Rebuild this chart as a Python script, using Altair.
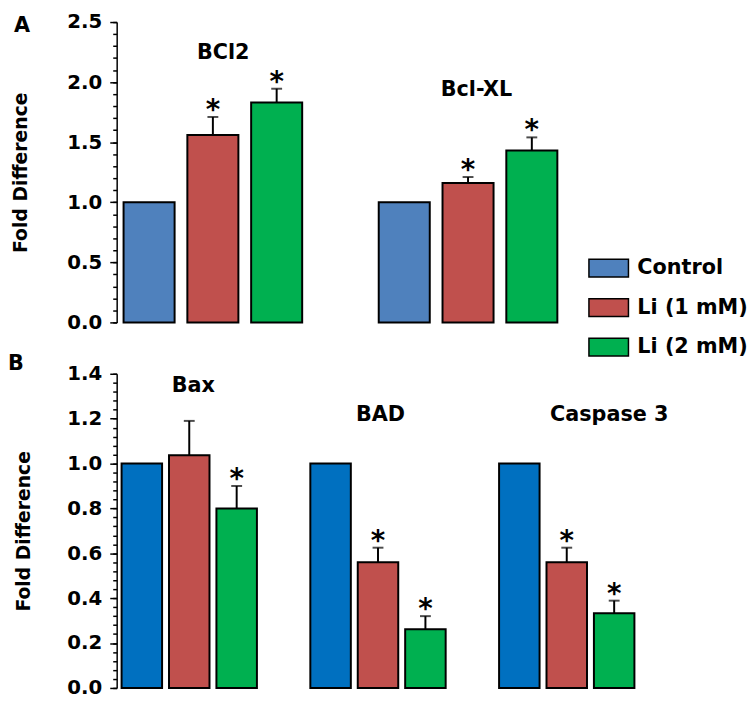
import altair as alt
import pandas as pd

treatments = ["Control", "Li (1 mM)", "Li (2 mM)"]

# Panel A
groups_a = ["BCl2", "Bcl-XL"]
mean_a = [[1.0, 1.56, 1.83], [1.0, 1.16, 1.43]]
err_a = [[0.0, 0.15, 0.115], [0.0, 0.05, 0.11]]
sig_a = [[False, True, True], [False, True, True]]
label_y_a = [2.24, 1.93]
colors_a = ["#4F81BD", "#C0504D", "#00B050"]
major_a = [0.0, 0.5, 1.0, 1.5, 2.0, 2.5]
minor_a = [round(i * 0.1, 1) for i in range(26)]

# Panel B
groups_b = ["Bax", "BAD", "Caspase 3"]
mean_b = [[1.0, 1.037, 0.80], [1.0, 0.56, 0.262], [1.0, 0.56, 0.333]]
err_b = [[0.0, 0.153, 0.10], [0.0, 0.065, 0.058], [0.0, 0.065, 0.056]]
sig_b = [[False, False, True], [False, True, True], [False, True, True]]
label_y_b = [1.344, 1.216, 1.216]
colors_b = ["#0070C0", "#C0504D", "#00B050"]
major_b = [0.0, 0.2, 0.4, 0.6, 0.8, 1.0, 1.2, 1.4]
minor_b = [round(i * 0.04, 2) for i in range(36)]

FONT = "DejaVu Sans"


def make_df(groups, means, errs, sigs):
    rows = []
    for gi, g in enumerate(groups):
        for ti, t in enumerate(treatments):
            m = means[gi][ti]
            e = errs[gi][ti]
            rows.append({"group": g, "treat": t, "mean": m, "err": e,
                         "upper": m + e, "sig": sigs[gi][ti]})
    return pd.DataFrame(rows)


def panel(groups, means, errs, sigs, label_y, label_dx, colors, major, minor,
          ymax, width, height, pad_inner, pad_outer, off_inner,
          letter, letter_x, letter_y, legend, title_pad):
    df = make_df(groups, means, errs, sigs)
    xenc = alt.X("group:N", sort=groups,
                 scale=alt.Scale(paddingInner=pad_inner, paddingOuter=pad_outer),
                 axis=None)
    xoff = alt.XOffset("treat:N", sort=treatments,
                       scale=alt.Scale(paddingInner=off_inner, paddingOuter=0))
    yscale = alt.Scale(domain=[0, ymax], nice=False, zero=True)
    yaxis = alt.Axis(
        values=major, format=".1f", orient="left",
        tickSize=7, labelOverlap=False, grid=False,
        domainColor="black", domainWidth=1.5,
        tickColor="black", tickWidth=1.5,
        labelFont=FONT, labelFontWeight="bold", labelFontSize=20,
        labelColor="black", labelPadding=8,
        title="Fold Difference", titleFont=FONT, titleFontWeight="bold",
        titleFontSize=19, titleColor="black", titlePadding=title_pad,
    )
    minor_axis = alt.Axis(
        values=minor, orient="left", labels=False, domain=False, grid=False,
        tickSize=4, tickColor="black", tickWidth=1.5, title="",
    )
    color_kwargs = dict(sort=treatments,
                        scale=alt.Scale(domain=treatments, range=colors))
    if legend:
        leg = alt.Legend(
            orient="none", legendX=477, legendY=228, title=None,
            symbolType="M-1,-0.45L1,-0.45L1,0.45L-1,0.45Z", symbolSize=1600,
            symbolStrokeColor="black", symbolStrokeWidth=1.5, symbolOpacity=1,
            labelFont=FONT, labelFontWeight="bold", labelFontSize=21,
            labelColor="black", rowPadding=7, labelOffset=8,
        )
        color = alt.Color("treat:N", legend=leg, **color_kwargs)
    else:
        color = alt.Color("treat:N", legend=None, **color_kwargs)

    base = alt.Chart(df).encode(x=xenc, xOffset=xoff)
    bars = base.mark_bar(stroke="black", strokeWidth=2).encode(
        y=alt.Y("mean:Q", scale=yscale, axis=yaxis),
        color=color,
    )
    errdf = base.transform_filter("datum.err > 0")
    rule = errdf.mark_rule(color="black", strokeWidth=2).encode(
        y="mean:Q", y2="upper:Q")
    cap = errdf.mark_tick(color="black", size=11, thickness=2).encode(
        y="upper:Q")
    stars = base.transform_filter("datum.sig").mark_text(
        text="*", font=FONT, fontWeight="bold", fontSize=28,
        baseline="alphabetic", dy=2, color="black").encode(y="upper:Q")

    layers = [bars, rule, cap, stars]
    for i, g in enumerate(groups):
        ldf = pd.DataFrame({"group": [g], "ly": [label_y[i]]})
        layers.append(
            alt.Chart(ldf).mark_text(
                font=FONT, fontWeight="bold", fontSize=21, color="black",
                baseline="middle", dx=label_dx[i]
            ).encode(x=alt.X("group:N", sort=groups), y="ly:Q", text="group:N")
        )
    ltr = alt.Chart(pd.DataFrame({"t": [letter]})).mark_text(
        font=FONT, fontWeight="bold", fontSize=21, color="black",
        align="left", baseline="middle"
    ).encode(x=alt.value(letter_x), y=alt.value(letter_y), text="t:N")
    layers.append(ltr)
    inner = alt.layer(*layers)

    minor_layer = alt.Chart(pd.DataFrame({"v": minor})).mark_point(
        opacity=0).encode(
        y=alt.Y("v:Q", scale=alt.Scale(domain=[0, ymax], nice=False),
                axis=minor_axis))
    return alt.layer(inner, minor_layer).resolve_scale(
        y="independent").properties(width=width, height=height)


pa = panel(groups_a, mean_a, err_a, sig_a, label_y_a, [10.5, 8.5], colors_a,
           major_a, minor_a, 2.5, 453, 304, 0.3, 0.027, 0.2,
           "A", -104, 4, True, 37)
pb = panel(groups_b, mean_b, err_b, sig_b, label_y_b, [4, 2.5, 43], colors_b,
           major_b, minor_b, 1.4, 529, 318, 0.283, 0.026, 0.146,
           "B", -110, -9.5, False, 34)

chart = alt.vconcat(pa, pb, spacing=-6).resolve_scale(
    color="independent", x="independent", xOffset="independent",
    y="independent"
).properties(padding=0).configure_view(stroke=None)

chart.save("out.html", embed_options={"renderer": "svg", "actions": False})
